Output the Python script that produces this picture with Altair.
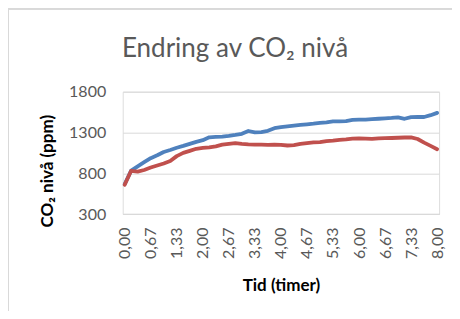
import altair as alt
import pandas as pd

# Measurements every 10 minutes (1/6 hour), 49 points, 0..8 hours
steps = list(range(49))
blue_vals = [665, 832, 885, 935, 985, 1020, 1060, 1085, 1112, 1135,
             1160, 1185, 1205, 1240, 1245, 1250, 1258, 1270, 1284, 1318,
             1300, 1305, 1320, 1352, 1365, 1374, 1383, 1392, 1400, 1408,
             1418, 1425, 1436, 1436, 1440, 1455, 1457, 1458, 1463, 1468,
             1473, 1478, 1485, 1468, 1488, 1490, 1490, 1512, 1540]
red_vals = [658, 830, 820, 840, 870, 895, 920, 950, 1010, 1050,
            1075, 1100, 1110, 1118, 1130, 1150, 1160, 1168, 1160, 1155,
            1152, 1150, 1148, 1150, 1148, 1140, 1145, 1160, 1170, 1178,
            1182, 1195, 1200, 1210, 1215, 1225, 1228, 1225, 1222, 1228,
            1230, 1232, 1235, 1238, 1240, 1220, 1175, 1135, 1095]
series_names = ["Serie 1", "Serie 2"]
series_colors = ["#4F81BD", "#C0504D"]
y_ticks = [300, 800, 1300, 1800]
x_ticks = [k * 2 / 3 for k in range(13)]
chart_title = "Endring av CO₂ nivå"

rows = []
for name, vals in zip(series_names, [blue_vals, red_vals]):
    for i, v in zip(steps, vals):
        rows.append({"tid": i / 6, "co2": v, "serie": name})
df = pd.DataFrame(rows)

W = 316.4
H = 122.3
FONT = "Lato"

lines = alt.Chart(df).mark_line(strokeWidth=3.8, strokeCap="round", strokeJoin="round").encode(
    x=alt.X("tid:Q",
            scale=alt.Scale(domain=[-0.05, 8.05], nice=False, zero=False),
            axis=alt.Axis(values=x_ticks,
                          labelExpr="replace(format(datum.value, '.2f'), '.', ',')",
                          labelAngle=270, labelFontSize=16, labelColor="#595959",
                          labelFont=FONT, labelPadding=13, ticks=False,
                          domain=True, domainColor="#d9d9d9", grid=False,
                          title="Tid (timer)", titleFont=FONT, titleFontSize=17,
                          titleFontWeight="bold", titleColor="#000000",
                          titleX=W / 2, titleY=71, titleBaseline="middle")),
    y=alt.Y("co2:Q",
            scale=alt.Scale(domain=[300, 1800], nice=False, zero=False),
            axis=alt.Axis(values=y_ticks, format="d", labelFontSize=16, labelColor="#595959",
                          labelFont=FONT, labelPadding=17, ticks=False,
                          domain=False, grid=True, gridColor="#d9d9d9",
                          title="CO₂ nivå (ppm)", titleFont=FONT, titleFontSize=17,
                          titleFontWeight="bold", titleColor="#000000",
                          titleAngle=270, titleX=-75.7, titleY=79,
                          titleAlign="center", titleBaseline="middle")),
    color=alt.Color("serie:N", scale=alt.Scale(domain=series_names, range=series_colors),
                    legend=None),
)

border_left = alt.Chart(df).mark_rule(color="#d9d9d9", strokeWidth=1).encode(
    x=alt.value(-114.2), y=alt.value(-83.2), y2=alt.value(230))
border_top = alt.Chart(df).mark_rule(color="#d9d9d9", strokeWidth=1).encode(
    x=alt.value(-114.2), x2=alt.value(340), y=alt.value(-82.7))

title_text = alt.Chart(pd.DataFrame({"t": [chart_title]})).mark_text(
    font=FONT, fontSize=26, fontWeight="normal", color="#595959", align="center",
    baseline="alphabetic"
).encode(text="t:N", x=alt.value(112.3), y=alt.value(-34.4))

chart = alt.layer(border_left, border_top, title_text, lines).properties(
    width=W, height=H,
    autosize=alt.AutoSizeParams(type="none"),
    padding={"left": 114.7, "top": 83.7, "right": 12.9, "bottom": 97},
).configure_view(stroke=None).configure(background="#ffffff")

chart.save("out.html", embed_options={"renderer": "svg", "actions": False})
